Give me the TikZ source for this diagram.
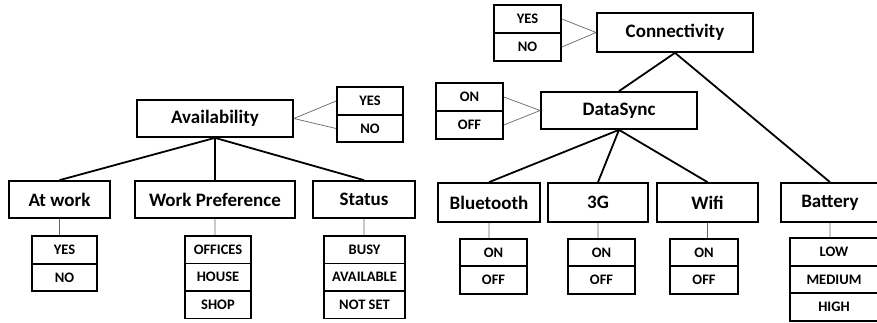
\documentclass[tikz,border=0pt]{standalone}
\usepackage{fontspec}
\setmainfont{Carlito}
\usetikzlibrary{positioning}

\begin{document}
\begin{tikzpicture}[x=1pt, y=-1pt]
                \tikzstyle{feature} = [shape=rectangle, draw=black, line width=1.7pt, minimum height=37pt, inner sep=0pt, font=\bfseries\fontsize{19}{21}\selectfont];
                \tikzstyle{option} = [shape=rectangle, draw=black, line width=1.7pt, minimum height=27.5pt, inner sep=0pt, font=\bfseries\fontsize{14.5}{16}\selectfont];
                \tikzstyle{link} = [line width=1.8pt, black];
                \tikzstyle{thin} = [line width=0.7pt, black!60];

                \useasboundingbox (0,0) rectangle (877,322);

                % main features
                \node[feature, minimum width=156pt](Avail) at (215,118.5) {Availability};
                \node[feature, minimum width=156pt, minimum height=39pt](Conn) at (675,32.5) {Connectivity};
                \node[feature, minimum width=156pt](Sync) at (619,110.5) {DataSync};
                \node[feature, minimum width=101pt](AtWork) at (59.5,199.5) {At work};
                \node[feature, minimum width=160pt](WorkPref) at (215,199.5) {Work Preference};
                \node[feature, minimum width=102pt](Status) at (364,199.5) {Status};
                \node[feature, minimum width=102pt, minimum height=39pt](Blue) at (489,202.5) {Bluetooth};
                \node[feature, minimum width=100pt, minimum height=39pt](ThreeG) at (598,202.5) {3G};
                \node[feature, minimum width=101pt, minimum height=39pt](Wifi) at (707.5,202.5) {Wifi};
                \node[feature, minimum width=98pt, minimum height=39pt](Battery) at (830,202.5) {Battery};

                % option values
                \node[option, minimum width=66pt](AvYes) at (370,101) {YES};
                \node[option, minimum width=66pt](AvNo) at (370,128.5) {NO};
                \node[option, minimum width=67pt](CoYes) at (527.5,19) {YES};
                \node[option, minimum width=67pt](CoNo) at (527.5,47) {NO};
                \node[option, minimum width=67pt](SyOn) at (469.5,97) {ON};
                \node[option, minimum width=67pt](SyOff) at (469.5,125) {OFF};

                \node[option, minimum width=65pt](AwYes) at (64.5,250) {YES};
                \node[option, minimum width=65pt](AwNo) at (64.5,277.5) {NO};
                \node[option, minimum width=66pt](WpOffices) at (218,249.75) {OFFICES};
                \node[option, minimum width=66pt](WpHouse) at (218,277.25) {HOUSE};
                \node[option, minimum width=66pt](WpShop) at (218,304.75) {SHOP};
                \node[option, minimum width=81pt](StBusy) at (364.5,249.75) {BUSY};
                \node[option, minimum width=81pt](StAvail) at (364.5,277.25) {AVAILABLE};
                \node[option, minimum width=81pt](StNotSet) at (364.5,304.75) {NOT SET};

                \node[option, minimum width=67pt](BtOn) at (493.5,252.5) {ON};
                \node[option, minimum width=67pt](BtOff) at (493.5,280) {OFF};
                \node[option, minimum width=67pt](TgOn) at (601.5,252.5) {ON};
                \node[option, minimum width=67pt](TgOff) at (601.5,280) {OFF};
                \node[option, minimum width=68pt](WfOn) at (704,252.5) {ON};
                \node[option, minimum width=68pt](WfOff) at (704,280) {OFF};
                \node[option, minimum width=88pt](BaLow) at (834,252) {LOW};
                \node[option, minimum width=88pt](BaMedium) at (834,279.5) {MEDIUM};
                \node[option, minimum width=88pt](BaHigh) at (834,307) {HIGH};

                \draw[link]
                    (Avail.south) -- (AtWork.north)
                    (Avail.south) -- (WorkPref.north)
                    (Avail.south) -- (Status.north)

                    (Conn.south) -- (Sync.north)
                    (Conn.south) -- (Battery.north)

                    (Sync.south) -- (Blue.north)
                    (Sync.south) -- (ThreeG.north)
                    (Sync.south) -- (Wifi.north)
                ;

                \draw[thin]
                    (Avail.east) -- (AvYes.west)
                    (Avail.east) -- (AvNo.west)
                    (Conn.west) -- (CoYes.east)
                    (Conn.west) -- (CoNo.east)
                    (Sync.west) -- (SyOn.east)
                    (Sync.west) -- (SyOff.east)

                    (AtWork.south) -- (AtWork.south |- AwYes.north)
                    (WorkPref.south) -- (WorkPref.south |- WpOffices.north)
                    (Status.south) -- (Status.south |- StBusy.north)
                    (Blue.south) -- (Blue.south |- BtOn.north)
                    (ThreeG.south) -- (ThreeG.south |- TgOn.north)
                    (Wifi.south) -- (Wifi.south |- WfOn.north)
                    (Battery.south) -- (Battery.south |- BaLow.north)
                ;
\end{tikzpicture}
\end{document}
